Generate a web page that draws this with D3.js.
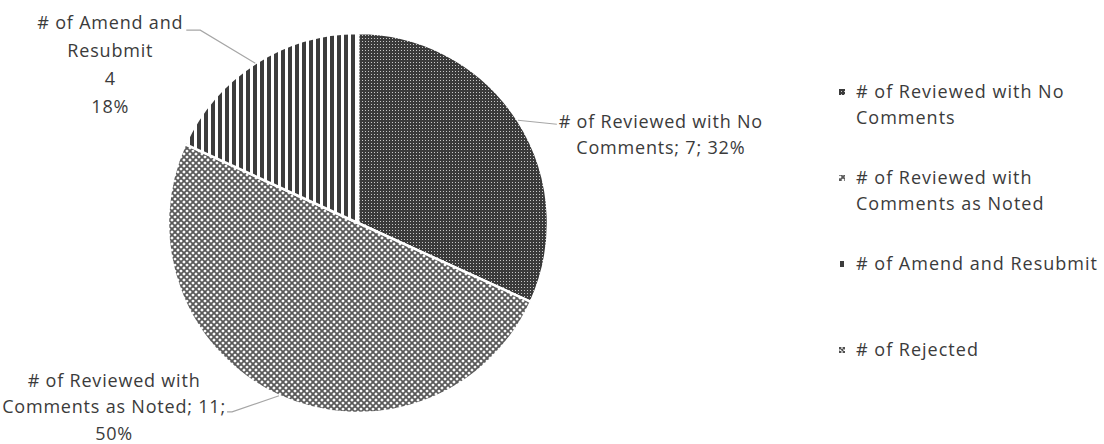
<!DOCTYPE html>
<html>
<head>
<meta charset="utf-8">
<script src="https://cdn.jsdelivr.net/npm/d3@7"></script>
<style>
  html, body { margin: 0; padding: 0; background: #ffffff; }
  svg { display: block; }
  text { font-family: "Open Sans", Lato, sans-serif; fill: #3b3b3b; }
</style>
</head>
<body>
<svg id="chart" width="1104" height="444"></svg>
<script>
// Review outcome counts
const categories = [
  "# of Reviewed with No Comments",
  "# of Reviewed with Comments as Noted",
  "# of Amend and Resubmit",
  "# of Rejected"
];
const counts = [7, 11, 4, 0];
const percentLabels = ["32%", "50%", "18%", "0%"];

// Legend lines (wrapped)
const legendLines = [
  ["# of Reviewed with No", "Comments"],
  ["# of Reviewed with", "Comments as Noted"],
  ["# of Amend and Resubmit"],
  ["# of Rejected"]
];

// Data label lines (wrapped), zero slice gets none
const labelLines = [
  ["# of Reviewed with No", "Comments; 7; 32%"],
  ["# of Reviewed with", "Comments as Noted; 11;", "50%"],
  ["# of Amend and", "Resubmit", "4", "18%"],
  []
];

const svg = d3.select("#chart");
const defs = svg.append("defs");

// Fill patterns for each slice
function patDots(id) {
  const p = defs.append("pattern").attr("id", id).attr("patternUnits", "userSpaceOnUse")
    .attr("width", 3).attr("height", 3);
  p.append("rect").attr("width", 3).attr("height", 3).attr("fill", "#3a3a3a");
  p.append("rect").attr("x", 1).attr("y", 1).attr("width", 1).attr("height", 1).attr("fill", "#c8c8c8");
}
function patDiag(id) {
  const p = defs.append("pattern").attr("id", id).attr("patternUnits", "userSpaceOnUse")
    .attr("width", 6).attr("height", 6);
  p.append("rect").attr("width", 6).attr("height", 6).attr("fill", "#ffffff");
  p.append("path")
    .attr("d", "M-1,-1L7,7M7,-1L-1,7M-3,3L3,-3M3,9L9,3M-3,3L3,9M3,-3L9,3")
    .attr("stroke", "#5a5a5a").attr("stroke-width", 1.8);
}
function patVert(id) {
  const p = defs.append("pattern").attr("id", id).attr("patternUnits", "userSpaceOnUse")
    .attr("width", 7).attr("height", 7);
  p.append("rect").attr("width", 7).attr("height", 7).attr("fill", "#ffffff");
  p.append("rect").attr("x", 0).attr("width", 4).attr("height", 7).attr("fill", "#3c3c3c");
}
function patCross(id) {
  const p = defs.append("pattern").attr("id", id).attr("patternUnits", "userSpaceOnUse")
    .attr("width", 4).attr("height", 4);
  p.append("rect").attr("width", 4).attr("height", 4).attr("fill", "#ffffff");
  p.append("path").attr("d", "M0,0L4,4M4,0L0,4").attr("stroke", "#505050").attr("stroke-width", 1.3);
}
patDots("p0"); patDiag("p1"); patVert("p2"); patCross("p3");
const fills = ["url(#p0)", "url(#p1)", "url(#p2)", "url(#p3)"];

// Pie geometry
const cx = 358, cy = 223, R = 190;
const pie = d3.pie().sort(null).value(d => d)(counts);
const arc = d3.arc().innerRadius(0).outerRadius(R);

const g = svg.append("g").attr("transform", `translate(${cx},${cy})`);
g.selectAll("path.slice")
  .data(pie.filter(d => d.value > 0))
  .join("path")
  .attr("class", "slice")
  .attr("d", arc)
  .attr("fill", d => fills[d.index])
  .attr("stroke", "#ffffff")
  .attr("stroke-width", 2.5)
  .attr("stroke-linejoin", "round");

// Label layout: leader elbow offset, tail, text block anchor offsets from leader end
const labelLayout = [
  { elbow: [39, 4], tail: 0,  tx: 104, ty: -2 },
  { elbow: [-47, 16], tail: -5, tx: -113, ty: -31 },
  { elbow: [-55, -33], tail: -14, tx: -76, ty: -7 },
  null
];
const lineH = [26, 26.5, 28];

pie.forEach(d => {
  if (d.value <= 0) return;
  const L = labelLayout[d.index];
  const mid = (d.startAngle + d.endAngle) / 2;
  const ex = Math.sin(mid) * R, ey = -Math.cos(mid) * R;
  const bx = ex + L.elbow[0], by = ey + L.elbow[1];
  const tx = bx + L.tail;
  g.append("path")
    .attr("d", d3.line()([[ex, ey], [bx, by], [tx, by]]))
    .attr("fill", "none")
    .attr("stroke", "#a6a6a6")
    .attr("stroke-width", 1.1);
  const t = g.append("text")
    .attr("text-anchor", "middle")
    .attr("font-size", 18)
    .attr("letter-spacing", 0.8);
  labelLines[d.index].forEach((s, i) => {
    t.append("tspan")
      .attr("x", tx + L.tx)
      .attr("y", by + L.ty + i * lineH[d.index] + 6)
      .text(s);
  });
});

// Legend
const legX = 842, legY0 = 92, legStep = 86, legLine = 26;
const leg = svg.append("g");
categories.forEach((c, i) => {
  const y = legY0 + i * legStep;
  leg.append("rect")
    .attr("x", legX - 3).attr("y", y - 3)
    .attr("width", 6).attr("height", 6)
    .attr("fill", fills[i]);
  const t = leg.append("text").attr("font-size", 18).attr("letter-spacing", 1);
  legendLines[i].forEach((s, j) => {
    t.append("tspan").attr("x", legX + 14).attr("y", y + j * legLine + 6).text(s);
  });
});
</script>
</body>
</html>
